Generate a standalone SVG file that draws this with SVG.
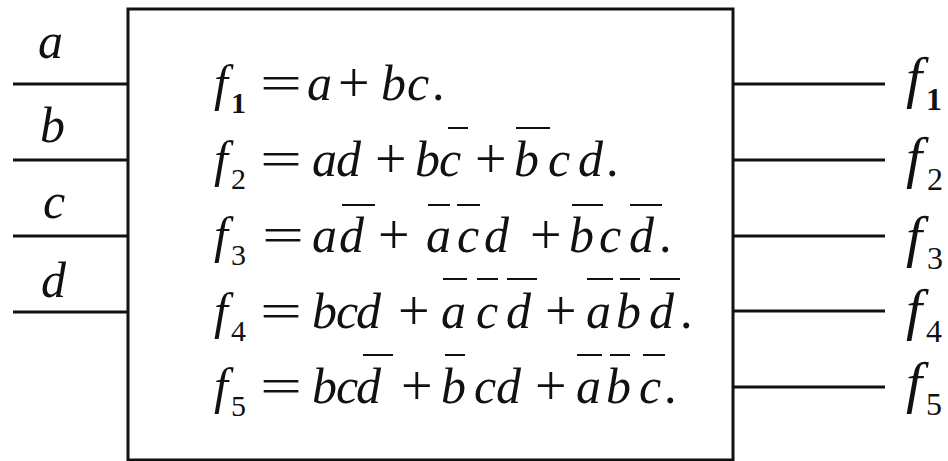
<svg xmlns="http://www.w3.org/2000/svg" width="948" height="461" viewBox="0 0 948 461">
<style>
.v{font-family:"Liberation Serif","Times New Roman",serif;font-style:italic;font-size:50px;fill:#111}
.o{font-family:"Liberation Serif","Times New Roman",serif;font-size:50px;fill:#111}
.p{font-family:"Liberation Serif","Times New Roman",serif;font-size:56px;fill:#111}
.s{font-family:"Liberation Serif","Times New Roman",serif;font-size:30px;fill:#111}
.L{font-family:"Liberation Serif","Times New Roman",serif;font-style:italic;font-size:58px;fill:#111}
.Ls{font-family:"Liberation Serif","Times New Roman",serif;font-size:32px;fill:#111}
.bar{stroke:#111;stroke-width:2}
.ln{stroke:#111;stroke-width:3;fill:none}
</style>
<rect width="948" height="461" fill="#fff"/>
<g id="box">
<rect class="ln" x="128" y="9" width="605" height="451"/>
</g>
<g id="connectors">
<line class="ln" x1="13" y1="84" x2="128" y2="84"/>
<line class="ln" x1="13" y1="160" x2="128" y2="160"/>
<line class="ln" x1="13" y1="236" x2="128" y2="236"/>
<line class="ln" x1="13" y1="312" x2="128" y2="312"/>
<line class="ln" x1="733" y1="84" x2="885" y2="84"/>
<line class="ln" x1="733" y1="160" x2="885" y2="160"/>
<line class="ln" x1="733" y1="236" x2="885" y2="236"/>
<line class="ln" x1="733" y1="311" x2="885" y2="311"/>
<line class="ln" x1="733" y1="387" x2="885" y2="387"/>
</g>
<g id="inputs">
<text class="v" x="38" y="58">a</text>
<text class="v" x="40" y="142">b</text>
<text class="v" x="43" y="218">c</text>
<text class="v" x="41" y="297">d</text>
</g>
<g id="outputs">
<text class="L" x="906" y="97">f</text><text class="Ls" x="926" y="110" font-weight="bold">1</text>
<text class="L" x="906" y="177">f</text><text class="Ls" x="927" y="190">2</text>
<text class="L" x="906" y="256">f</text><text class="Ls" x="927" y="269">3</text>
<text class="L" x="906" y="329">f</text><text class="Ls" x="926" y="342">4</text>
<text class="L" x="906" y="402">f</text><text class="Ls" x="926" y="415">5</text>
</g>
<g id="eq1">
<text class="v" x="214" y="100">f</text><text class="s" x="231" y="113" font-weight="bold">1</text>
<text class="o" x="260" y="100" textLength="42" lengthAdjust="spacingAndGlyphs">=</text>
<text class="v" y="100"><tspan x="307">a</tspan><tspan x="381">b</tspan><tspan x="407">c</tspan></text>
<text class="p" x="338" y="102">+</text><text class="o" x="432" y="100">.</text>
</g>
<g id="eq2">
<text class="v" x="214" y="176">f</text><text class="s" x="231" y="189">2</text>
<text class="o" x="260" y="176" textLength="42" lengthAdjust="spacingAndGlyphs">=</text>
<text class="v" y="176"><tspan x="312">a</tspan><tspan x="336">d</tspan><tspan x="415">b</tspan><tspan x="439">c</tspan><tspan x="514">b</tspan><tspan x="548">c</tspan><tspan x="578">d</tspan></text>
<text class="p" y="178"><tspan x="375">+</tspan><tspan x="475">+</tspan></text><text class="o" x="606" y="176">.</text>
<line class="bar" x1="448" y1="128" x2="468" y2="128"/>
<line class="bar" x1="516" y1="128" x2="550" y2="128"/>
</g>
<g id="eq3">
<text class="v" x="214" y="252">f</text><text class="s" x="231" y="265">3</text>
<text class="o" x="262" y="252" textLength="42" lengthAdjust="spacingAndGlyphs">=</text>
<text class="v" y="252"><tspan x="312">a</tspan><tspan x="339">d</tspan><tspan x="426">a</tspan><tspan x="457">c</tspan><tspan x="484">d</tspan><tspan x="569">b</tspan><tspan x="599">c</tspan><tspan x="629">d</tspan></text>
<text class="p" y="254"><tspan x="378">+</tspan><tspan x="530">+</tspan></text><text class="o" x="659" y="252">.</text>
<line class="bar" x1="342" y1="205" x2="375" y2="205"/>
<line class="bar" x1="428" y1="205" x2="450" y2="205"/>
<line class="bar" x1="457" y1="205" x2="480" y2="205"/>
<line class="bar" x1="572" y1="205" x2="603" y2="205"/>
<line class="bar" x1="630" y1="205" x2="662" y2="205"/>
</g>
<g id="eq4">
<text class="v" x="214" y="328">f</text><text class="s" x="231" y="341">4</text>
<text class="o" x="260" y="328" textLength="42" lengthAdjust="spacingAndGlyphs">=</text>
<text class="v" y="328"><tspan x="312">b</tspan><tspan x="336">c</tspan><tspan x="356">d</tspan><tspan x="441">a</tspan><tspan x="476">c</tspan><tspan x="506">d</tspan><tspan x="586">a</tspan><tspan x="616">b</tspan><tspan x="649">d</tspan></text>
<text class="p" y="330"><tspan x="398">+</tspan><tspan x="545">+</tspan></text><text class="o" x="680" y="328">.</text>
<line class="bar" x1="443" y1="279" x2="467" y2="279"/>
<line class="bar" x1="477" y1="279" x2="498" y2="279"/>
<line class="bar" x1="507" y1="279" x2="537" y2="279"/>
<line class="bar" x1="587" y1="279" x2="613" y2="279"/>
<line class="bar" x1="620" y1="279" x2="640" y2="279"/>
<line class="bar" x1="650" y1="279" x2="680" y2="279"/>
</g>
<g id="eq5">
<text class="v" x="214" y="403">f</text><text class="s" x="231" y="416">5</text>
<text class="o" x="260" y="403" textLength="42" lengthAdjust="spacingAndGlyphs">=</text>
<text class="v" y="403"><tspan x="312">b</tspan><tspan x="336">c</tspan><tspan x="356">d</tspan><tspan x="441">b</tspan><tspan x="474">c</tspan><tspan x="496">d</tspan><tspan x="576">a</tspan><tspan x="606">b</tspan><tspan x="639">c</tspan></text>
<text class="p" y="405"><tspan x="401">+</tspan><tspan x="535">+</tspan></text><text class="o" x="664" y="403">.</text>
<line class="bar" x1="363" y1="355" x2="393" y2="355"/>
<line class="bar" x1="445" y1="355" x2="465" y2="355"/>
<line class="bar" x1="577" y1="355" x2="602" y2="355"/>
<line class="bar" x1="610" y1="355" x2="630" y2="355"/>
<line class="bar" x1="643" y1="355" x2="665" y2="355"/>
</g>
</svg>
